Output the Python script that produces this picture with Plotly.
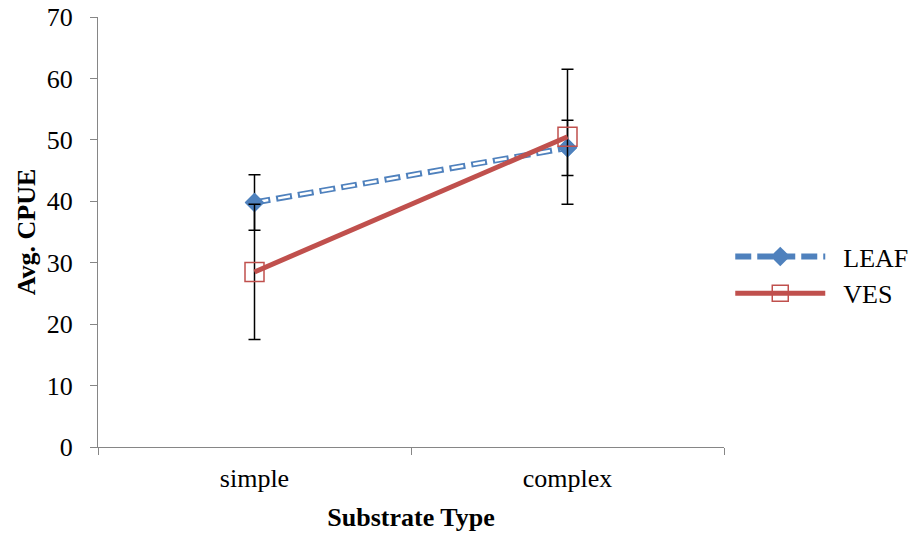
import plotly.graph_objects as go

categories = ["simple", "complex"]
leaf_vals = [39.8, 48.7]
leaf_err = [4.5, 4.5]
ves_vals = [28.5, 50.5]
ves_err = [11.0, 11.0]

BLUE = "#4F81BD"
RED = "#C0504D"
FONT = "Liberation Serif, Times New Roman, serif"
FS = 26
NB = "\u00a0\u00a0"

fig = go.Figure()
fig.add_trace(go.Scatter(
    x=categories, y=leaf_vals, name=NB + "LEAF", mode="lines+markers",
    line=dict(color=BLUE, width=6, dash="16px,6px"),
    marker=dict(symbol="diamond", size=15, color=BLUE),
    error_y=dict(type="data", array=leaf_err, color="black", thickness=1.5, width=6),
))
fig.add_trace(go.Scatter(
    x=categories, y=leaf_vals, mode="lines", showlegend=False, hoverinfo="skip",
    line=dict(color="white", width=2.5, dash="0px,2px,12px,8px"),
))
fig.add_trace(go.Scatter(
    x=categories, y=leaf_vals, mode="markers", showlegend=False, hoverinfo="skip",
    marker=dict(symbol="diamond", size=15, color=BLUE),
))
fig.add_trace(go.Scatter(
    x=categories, y=ves_vals, name=NB + "VES", mode="lines+markers",
    line=dict(color=RED, width=5),
    marker=dict(symbol="square-open", size=19, color=RED, line=dict(width=1.5, color=RED)),
    error_y=dict(type="data", array=ves_err, color="black", thickness=1.5, width=6),
))

fig.update_layout(
    width=914, height=538,
    margin=dict(l=98, r=190, t=17, b=91, autoexpand=False),
    plot_bgcolor="white", paper_bgcolor="white",
    font=dict(family=FONT, size=FS, color="black"),
    legend=dict(x=1.01, y=0.40, xanchor="left", yanchor="middle",
                font=dict(family=FONT, size=FS), tracegroupgap=0, itemwidth=90),
)
fig.update_xaxes(
    type="category", range=[-0.5, 1.5], showline=True, linecolor="#868686", linewidth=1,
    ticks="outside", tickson="boundaries", ticklen=7, tickcolor="#868686",
    showgrid=False, zeroline=False, automargin=False, ticklabelstandoff=8,
    title=dict(text="<b>Substrate Type</b>", font=dict(family=FONT, size=FS)),
)
fig.update_yaxes(
    range=[0, 70], dtick=10, showline=True, linecolor="#868686", linewidth=1,
    ticks="outside", ticklen=7, tickcolor="#868686", showgrid=False, zeroline=False,
    automargin=False, ticklabelstandoff=12, ticklabeloverflow="allow",
    title=dict(text="<b>Avg. CPUE</b>", font=dict(family=FONT, size=FS), standoff=3),
)

fig.write_html("out.html", config={"displayModeBar": False},
               post_script="document.body.style.margin='0px';")
